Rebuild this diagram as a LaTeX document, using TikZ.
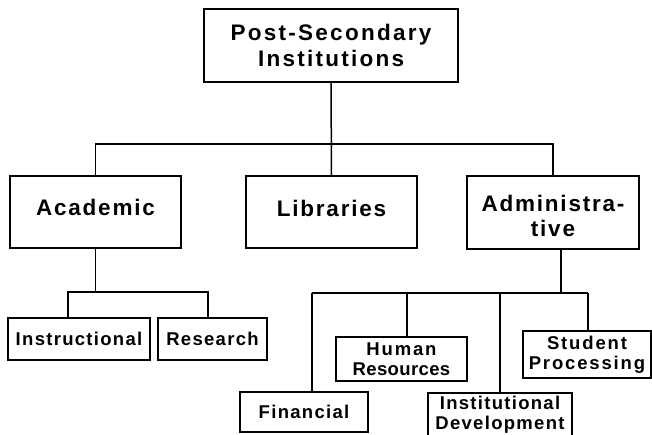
\documentclass[tikz,border=0pt]{standalone}
\usepackage{fontspec}
\newfontfamily\lab[LetterSpace=8]{Liberation Sans}
\usetikzlibrary{calc}
\begin{document}
\begin{tikzpicture}[x=1pt,y=-1pt,
  every node/.style={inner sep=0pt, outer sep=0pt},
  box/.style={draw=black, line width=1.5pt, fill=white, align=center,
    font=\lab\bfseries\color{black}},
  bigbox/.style={box, font=\lab\bfseries\fontsize{22.5}{26}\selectfont},
  smallbox/.style={box, font=\lab\bfseries\fontsize{18.5}{20}\selectfont\addfontfeature{LetterSpace=7}},
  link/.style={draw=black, line width=1.5pt}]
\useasboundingbox (0,0) rectangle (652,434);
\clip (0,0) rectangle (652,434);

% top level
\node[bigbox, minimum width=254pt, minimum height=73pt,
  font=\lab\bfseries\fontsize{22.5}{26}\selectfont\addfontfeature{LetterSpace=10}] (top) at (331,45.5)
  {Post-Secondary\\Institutions};

% second level
\node[bigbox, minimum width=171pt, minimum height=72pt, text depth=9pt] (acad) at (95.5,212) {Academic};
\node[bigbox, minimum width=171pt, minimum height=72pt, text depth=7pt] (lib) at (331.5,212) {Libraries};
\node[bigbox, minimum width=172pt, minimum height=73pt,
  font=\lab\bfseries\fontsize{22.5}{25}\selectfont] (adm) at (553,212.5)
  {\rule{0pt}{24pt}Administra-\\tive};

% academic units
\node[smallbox, minimum width=142pt, minimum height=42pt] (instr) at (79,339) {Instructional};
\node[smallbox, minimum width=109pt, minimum height=42pt] (res) at (212.5,339) {Research};

% administrative units
\node[smallbox, minimum width=128pt, minimum height=40pt] (fin) at (304,412) {Financial};
\node[smallbox, minimum width=131pt, minimum height=44pt] (hr) at (401.5,359)
  {{\addfontfeature{LetterSpace=10}Human}\\{\addfontfeature{LetterSpace=2}Resources}};
\node[smallbox, minimum width=144pt, minimum height=44pt] (inst) at (500,415)
  {Institutional\\Development};
\node[smallbox, minimum width=128pt, minimum height=47pt,
  font=\lab\bfseries\fontsize{18.5}{20}\selectfont\addfontfeature{LetterSpace=10}] (stud) at (587,354.5)
  {Student\\Processing};

% junction points of the connector bars
\coordinate (busA) at (331,144);
\coordinate (acL) at (68,292);
\coordinate (acR) at (208,292);
\coordinate (adJ) at (561,293);
\coordinate (adF) at (312,293);
\coordinate (adH) at (407,293);
\coordinate (adI) at (500,293);
\coordinate (adS) at (588,293);

% top level to second level
\draw[link] (top.south) -- (lib.north);
\draw[link] (acad.north) |- (busA) -| (adm.north);

% academic branch
\draw[link] (acad.south) -- (acad.south |- acL);
\draw[link] (acL |- instr.north) -- (acL) -- (acR) -- (acR |- res.north);

% administrative branch
\draw[link] (adm.south -| adJ) -- (adJ);
\draw[link] (adF) -- (adS);
\draw[link] (adF) -- (adF |- fin.north);
\draw[link] (adH) -- (adH |- hr.north);
\draw[link] (adI) -- (adI |- inst.north);
\draw[link] (adS) -- (adS |- stud.north);
\end{tikzpicture}
\end{document}
